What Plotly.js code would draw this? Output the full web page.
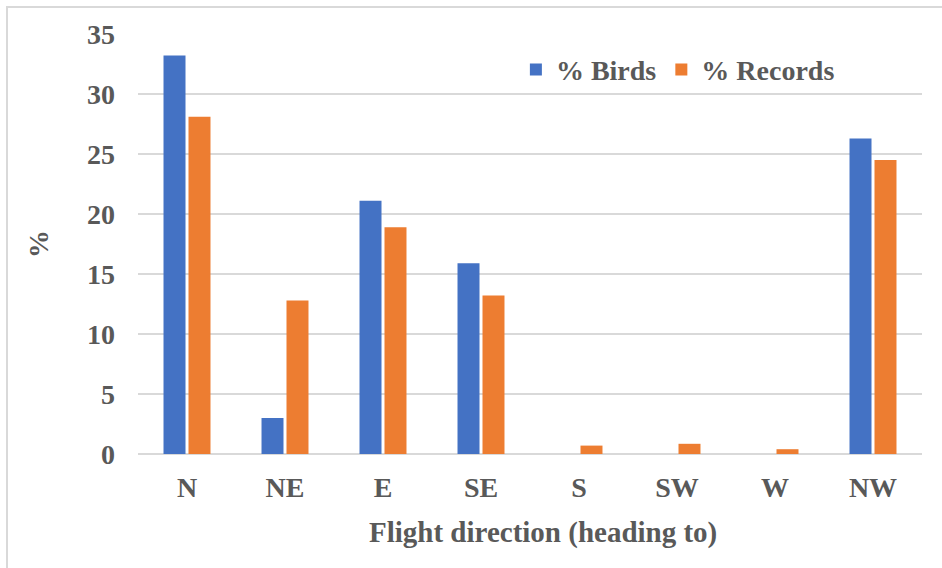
<!DOCTYPE html>
<html>
<head>
<meta charset="utf-8">
<script src="https://cdn.plot.ly/plotly-3.0.1.min.js"></script>
<style>
  html, body { margin: 0; padding: 0; background: #ffffff; }
  #frame { position: absolute; left: 6px; top: 6px; width: 960px; height: 590px; border-left: 2px solid #d9d9d9; border-top: 2px solid #d9d9d9; }
  #chart { position: absolute; left: 0; top: 0; width: 942px; height: 568px; }
</style>
</head>
<body>
<div id="frame"></div>
<div id="chart"></div>
<script>
const directions = ["N", "NE", "E", "SE", "S", "SW", "W", "NW"];
const pctBirds = [33.2, 3.0, 21.1, 15.9, 0, 0, 0, 26.3];
const pctRecords = [28.1, 12.8, 18.9, 13.2, 0.7, 0.85, 0.4, 24.5];
const yTicks = [0, 5, 10, 15, 20, 25, 30, 35];
const xTitle = 'Flight direction (heading to)';
const yTitle = '%';

const fontFamily = '"Liberation Serif", "Times New Roman", serif';
const grey = '#595959';

const traces = [
  {
    type: 'bar', name: '% Birds', x: directions, y: pctBirds,
    marker: { color: '#4472C4' }
  },
  {
    type: 'bar', name: '% Records', x: directions, y: pctRecords,
    marker: { color: '#ED7D31' }
  }
];

const layout = {
  width: 942, height: 568,
  paper_bgcolor: 'rgba(0,0,0,0)', plot_bgcolor: 'rgba(0,0,0,0)',
  margin: { l: 138, r: 20, t: 34, b: 114 },
  barmode: 'group', bargap: 0.49, bargroupgap: 0.12,
  font: { family: fontFamily, color: grey, size: 28, weight: 'bold' },
  showlegend: true,
  legend: {
    orientation: 'h', x: 0.482, y: 0.915, xanchor: 'left', yanchor: 'middle',
    font: { family: fontFamily, size: 28, color: grey, weight: 'bold' },
    bgcolor: 'rgba(0,0,0,0)', itemwidth: 30, traceorder: 'normal'
  },
  xaxis: {
    showgrid: false, zeroline: false, showline: false, ticks: '',
    tickfont: { family: fontFamily, size: 28, color: grey, weight: 'bold' },
    ticklabelstandoff: 14
  },
  yaxis: {
    range: [0, 35], tickvals: yTicks, ticktext: yTicks.map(String),
    showgrid: true, gridcolor: '#d9d9d9', gridwidth: 2,
    zeroline: true, zerolinecolor: '#d9d9d9', zerolinewidth: 2,
    showline: false, ticks: '',
    tickfont: { family: fontFamily, size: 28, color: grey, weight: 'bold' },
    ticklabelstandoff: 22,
    title: { text: yTitle, standoff: 30,
      font: { family: fontFamily, size: 28, color: grey, weight: 'bold' } }
  },
  annotations: [
    {
      text: xTitle, xref: 'paper', yref: 'paper', x: 0.5166, y: -0.188,
      xanchor: 'center', yanchor: 'middle', showarrow: false,
      font: { family: fontFamily, size: 29, color: grey, weight: 'bold' }
    }
  ]
};

Plotly.newPlot('chart', traces, layout, { displayModeBar: false, staticPlot: true });
</script>
</body>
</html>
